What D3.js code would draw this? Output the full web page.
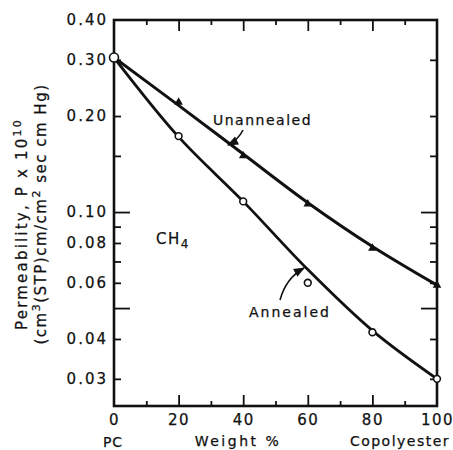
<!DOCTYPE html>
<html>
<head>
<meta charset="utf-8">
<script src="https://cdn.jsdelivr.net/npm/d3@7"></script>
<style>
  body { margin: 0; background: #fff; }
  svg text { font-family: "DejaVu Sans", sans-serif; fill: #111; stroke: #111; stroke-width: 0.25px; }
  .axis path { display: none; }
  .axis line { stroke: #111; stroke-width: 1.8; }
</style>
</head>
<body>
<svg id="chart"></svg>
<script>

// data (CH4 permeability vs weight % copolyester)
var weightPct = [0, 20, 40, 60, 80, 100];
var unannealedPts = [0.305, 0.221, 0.150, 0.106, 0.077, 0.059];
var annealedPts = [0.305, 0.173, 0.108, 0.060, 0.042, 0.030];
// the smooth curves as drawn through the points
var unannealedCurve = [0.305, 0.216, 0.152, 0.107, 0.078, 0.059];
var annealedCurve = [0.305, 0.172, 0.108, 0.066, 0.0425, 0.030];

// tick values / labels
var xLabelTicks = [0, 20, 40, 60, 80, 100];
var xMajorTicks = [20, 40, 60, 80];
var xMinorTicks = [10, 30, 50, 70, 90];
var yLabelTicks = [0.40, 0.30, 0.20, 0.10, 0.08, 0.06, 0.04, 0.03];
var yLabels = ['0.40', '0.30', '0.20', '0.10', '0.08', '0.06', '0.04', '0.03'];
var yLongTicks = [0.10, 0.05];
var yShortTicks = [0.30, 0.20, 0.15, 0.09, 0.08, 0.07, 0.06, 0.04, 0.03];

// layout
var margin = {top: 20, left: 114};
var width = 323;
var height = 386;

var x = d3.scaleLinear().domain([0, 100]).range([0, width]);
var y = d3.scaleLog().domain([0.02466, 0.4]).range([height, 0]);

var svg = d3.select('#chart')
  .attr('width', 453)
  .attr('height', 450);

var g = svg.append('g')
  .attr('transform', 'translate(' + margin.left + ',' + margin.top + ')');

// frame
g.append('rect')
  .attr('width', width)
  .attr('height', height)
  .attr('fill', 'none')
  .attr('stroke', '#111')
  .attr('stroke-width', 2.6);

// inward ticks, bottom and top
function xTicks(axisFn, ty, vals, size) {
  g.append('g').attr('class', 'axis')
    .attr('transform', 'translate(0,' + ty + ')')
    .call(axisFn(x).tickValues(vals).tickSize(size).tickFormat(''));
}
xTicks(d3.axisTop, height, xMajorTicks, 11);
xTicks(d3.axisTop, height, xMinorTicks, 5);
xTicks(d3.axisBottom, 0, xMajorTicks, 11);
xTicks(d3.axisBottom, 0, xMinorTicks, 5);

// inward ticks, left and right
function yTicks(axisFn, tx, vals, size) {
  g.append('g').attr('class', 'axis')
    .attr('transform', 'translate(' + tx + ',0)')
    .call(axisFn(y).tickValues(vals).tickSize(size).tickFormat(''));
}
yTicks(d3.axisRight, 0, yLongTicks, 16);
yTicks(d3.axisRight, 0, yShortTicks, 7);
yTicks(d3.axisLeft, width, yLongTicks, 16);
yTicks(d3.axisLeft, width, yShortTicks, 7);

// tick labels
var xLab = g.append('g').attr('class', 'axis')
  .attr('transform', 'translate(0,' + height + ')')
  .call(d3.axisBottom(x).tickValues(xLabelTicks).tickSize(0).tickPadding(8.5));
xLab.selectAll('text')
  .attr('font-family', null)
  .style('font-size', '15px')
  .style('letter-spacing', '1.5px');

var yLab = g.append('g').attr('class', 'axis')
  .call(d3.axisLeft(y).tickValues(yLabelTicks).tickSize(0).tickPadding(6)
    .tickFormat(function(d, i) { return yLabels[i]; }));
yLab.selectAll('text')
  .attr('font-family', null)
  .style('font-size', '15px')
  .style('letter-spacing', '2px');

// curves
var line = d3.line()
  .x(function(d) { return x(d.w); })
  .y(function(d) { return y(d.p); })
  .curve(d3.curveCatmullRom.alpha(0.5));

function series(vals) {
  return weightPct.map(function(w, i) { return {w: w, p: vals[i]}; });
}

g.append('path')
  .datum(series(unannealedCurve))
  .attr('d', line)
  .attr('fill', 'none')
  .attr('stroke', '#111')
  .attr('stroke-width', 3);

g.append('path')
  .datum(series(annealedCurve))
  .attr('d', line)
  .attr('fill', 'none')
  .attr('stroke', '#111')
  .attr('stroke-width', 2.8);

// unannealed: filled triangles (first point is the shared open circle)
g.selectAll('path.tri')
  .data(series(unannealedPts).slice(1))
  .enter()
  .append('path')
    .classed('tri', true)
    .attr('d', d3.symbol().type(d3.symbolTriangle).size(32))
    .attr('transform', function(d) { return 'translate(' + x(d.w) + ',' + y(d.p) + ')'; })
    .attr('fill', '#111');

// annealed: open circles
g.selectAll('circle.ann')
  .data(series(annealedPts))
  .enter()
  .append('circle')
    .classed('ann', true)
    .attr('cx', function(d) { return x(d.w); })
    .attr('cy', function(d) { return y(d.p); })
    .attr('r', function(d) { return d.w === 0 ? 4.5 : 3.4; })
    .attr('fill', '#fff')
    .attr('stroke', '#111')
    .attr('stroke-width', 1.6);

// annotations
var defs = svg.append('defs');
defs.append('marker')
  .attr('id', 'head')
  .attr('viewBox', '0 0 10 10')
  .attr('refX', 9).attr('refY', 5)
  .attr('markerWidth', 7).attr('markerHeight', 7)
  .attr('orient', 'auto')
  .append('path')
    .attr('d', 'M0,1 L10,5 L0,9 Z')
    .attr('fill', '#111');

var ann = svg.append('g');
ann.append('text')
  .attr('x', 213).attr('y', 125)
  .style('font-size', '14px')
  .style('letter-spacing', '1.5px')
  .text('Unannealed');
ann.append('path')
  .attr('d', 'M243,130 Q238,140 228,145')
  .attr('fill', 'none').attr('stroke', '#111').attr('stroke-width', 1.6)
  .attr('marker-end', 'url(#head)');

ann.append('text')
  .attr('x', 249).attr('y', 317)
  .style('font-size', '14px')
  .style('letter-spacing', '2px')
  .text('Annealed');
ann.append('path')
  .attr('d', 'M280,300 Q286,278 304,268')
  .attr('fill', 'none').attr('stroke', '#111').attr('stroke-width', 1.6)
  .attr('marker-end', 'url(#head)');

var ch4 = ann.append('text')
  .attr('x', 156).attr('y', 244)
  .style('font-size', '15px')
  .style('letter-spacing', '1.5px');
ch4.append('tspan').text('CH');
ch4.append('tspan').attr('dy', 4).style('font-size', '12px').text('4');

// axis titles
svg.append('text')
  .attr('x', 113).attr('y', 447)
  .attr('text-anchor', 'middle')
  .style('font-size', '14px')
  .style('letter-spacing', '1px')
  .text('PC');
svg.append('text')
  .attr('x', 238).attr('y', 446)
  .attr('text-anchor', 'middle')
  .style('font-size', '14px')
  .style('letter-spacing', '2.5px')
  .text('Weight %');
svg.append('text')
  .attr('x', 400).attr('y', 446)
  .attr('text-anchor', 'middle')
  .style('font-size', '14px')
  .style('letter-spacing', '1.5px')
  .text('Copolyester');

var t1 = svg.append('text')
  .attr('transform', 'translate(27,224) rotate(-90)')
  .attr('text-anchor', 'middle')
  .style('font-size', '15px')
  .style('letter-spacing', '2.2px');
t1.append('tspan').text('Permeability,  P x 10');
t1.append('tspan').attr('dy', -6).style('font-size', '11px').text('10');

var t2 = svg.append('text')
  .attr('transform', 'translate(46,214) rotate(-90)')
  .attr('text-anchor', 'middle')
  .style('font-size', '15px')
  .style('letter-spacing', '1.5px');
t2.append('tspan').text('(cm');
t2.append('tspan').attr('dy', -6).style('font-size', '11px').text('3');
t2.append('tspan').attr('dy', 6).text('(STP)cm/cm');
t2.append('tspan').attr('dy', -6).style('font-size', '11px').text('2');
t2.append('tspan').attr('dy', 6).text(' sec cm Hg)');

</script>
</body>
</html>
